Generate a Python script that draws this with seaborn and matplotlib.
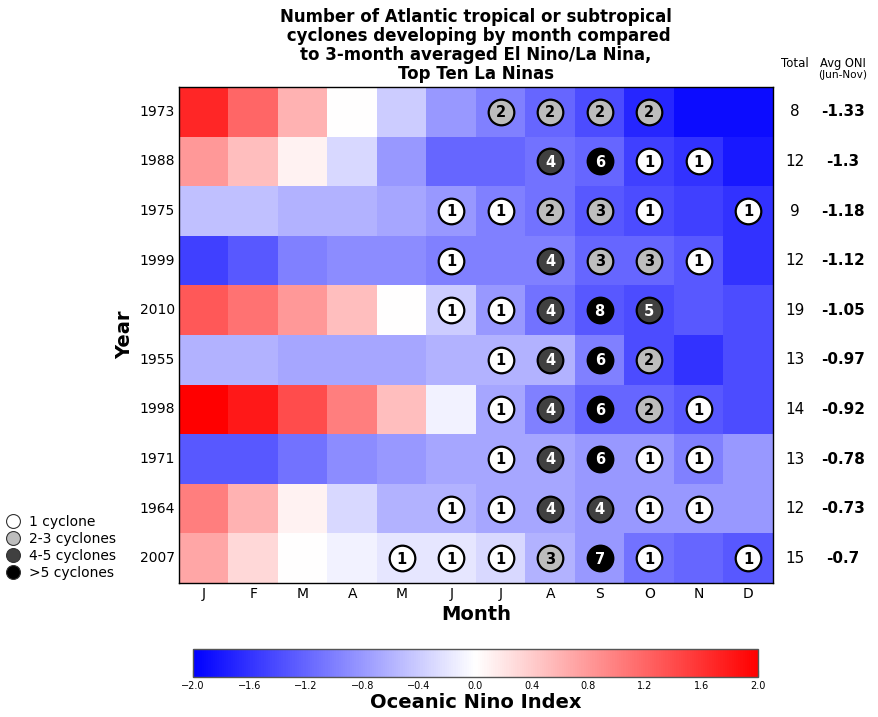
import matplotlib
matplotlib.use("Agg")
import matplotlib.pyplot as plt
from matplotlib.lines import Line2D
import matplotlib.transforms as mtransforms
import numpy as np
import pandas as pd
import seaborn as sns

# Top ten La Nina years (ordered by Jun-Nov average ONI)
years = ["1973", "1988", "1975", "1999", "2010", "1955", "1998", "1971", "1964", "2007"]
months = ["J", "F", "M", "A", "M", "J", "J", "A", "S", "O", "N", "D"]

# 3-month averaged Oceanic Nino Index, one row per year (Jan..Dec)
oni_1973 = [1.7, 1.2, 0.6, 0.0, -0.4, -0.8, -1.0, -1.2, -1.4, -1.7, -1.9, -1.9]
oni_1988 = [0.8, 0.5, 0.1, -0.3, -0.8, -1.2, -1.2, -1.1, -1.2, -1.5, -1.6, -1.8]
oni_1975 = [-0.5, -0.5, -0.6, -0.6, -0.7, -0.8, -1.0, -1.1, -1.3, -1.4, -1.5, -1.6]
oni_1999 = [-1.5, -1.3, -1.0, -0.9, -0.9, -1.0, -1.0, -1.0, -1.2, -1.2, -1.3, -1.6]
oni_2010 = [1.3, 1.1, 0.8, 0.5, 0.0, -0.4, -0.8, -1.1, -1.3, -1.4, -1.3, -1.4]
oni_1955 = [-0.6, -0.6, -0.7, -0.7, -0.7, -0.6, -0.6, -0.6, -1.0, -1.4, -1.6, -1.4]
oni_1998 = [2.0, 1.8, 1.4, 1.0, 0.5, -0.1, -0.7, -1.0, -1.2, -1.2, -1.3, -1.4]
oni_1971 = [-1.3, -1.3, -1.1, -0.9, -0.8, -0.7, -0.7, -0.7, -0.8, -0.8, -1.0, -0.8]
oni_1964 = [1.0, 0.6, 0.1, -0.3, -0.6, -0.6, -0.7, -0.7, -0.8, -0.8, -0.8, -0.8]
oni_2007 = [0.7, 0.3, 0.0, -0.1, -0.2, -0.2, -0.3, -0.6, -0.8, -1.1, -1.2, -1.3]

# Number of tropical/subtropical cyclones forming in each month
cyc_1973 = [0, 0, 0, 0, 0, 0, 2, 2, 2, 2, 0, 0]
cyc_1988 = [0, 0, 0, 0, 0, 0, 0, 4, 6, 1, 1, 0]
cyc_1975 = [0, 0, 0, 0, 0, 1, 1, 2, 3, 1, 0, 1]
cyc_1999 = [0, 0, 0, 0, 0, 1, 0, 4, 3, 3, 1, 0]
cyc_2010 = [0, 0, 0, 0, 0, 1, 1, 4, 8, 5, 0, 0]
cyc_1955 = [0, 0, 0, 0, 0, 0, 1, 4, 6, 2, 0, 0]
cyc_1998 = [0, 0, 0, 0, 0, 0, 1, 4, 6, 2, 1, 0]
cyc_1971 = [0, 0, 0, 0, 0, 0, 1, 4, 6, 1, 1, 0]
cyc_1964 = [0, 0, 0, 0, 0, 1, 1, 4, 4, 1, 1, 0]
cyc_2007 = [0, 0, 0, 0, 1, 1, 1, 3, 7, 1, 0, 1]

avg_oni_labels = ["-1.33", "-1.3", "-1.18", "-1.12", "-1.05", "-0.97", "-0.92", "-0.78", "-0.73", "-0.7"]

oni = pd.DataFrame(
    [oni_1973, oni_1988, oni_1975, oni_1999, oni_2010,
     oni_1955, oni_1998, oni_1971, oni_1964, oni_2007],
    index=years,
)
cyclones = np.array(
    [cyc_1973, cyc_1988, cyc_1975, cyc_1999, cyc_2010,
     cyc_1955, cyc_1998, cyc_1971, cyc_1964, cyc_2007]
)
totals = cyclones.sum(axis=1)

sns.set_style("white")
plt.rcParams["font.family"] = ["DejaVu Sans"]
plt.rcParams.update({
    "text.color": "black",
    "axes.labelcolor": "black",
    "xtick.color": "black",
    "ytick.color": "black",
})

W, H = 879, 717
fig = plt.figure(figsize=(W / 100, H / 100), dpi=100)
ax = fig.add_axes([179 / W, 1 - 583 / H, 594 / W, 496 / H])
cax = fig.add_axes([193 / W, 1 - 677 / H, 565 / W, 28 / H])

cbar_ticks = np.round(np.arange(-2.0, 2.01, 0.4), 1)
sns.heatmap(
    oni, ax=ax, cmap="bwr", vmin=-2, vmax=2,
    cbar_ax=cax, cbar_kws={"orientation": "horizontal", "ticks": cbar_ticks},
)

for s in ax.spines.values():
    s.set_visible(True)
    s.set_color("black")
    s.set_linewidth(1.0)

ax.set_xticks(np.arange(12) + 0.5)
ax.set_xticklabels(months, fontsize=10, rotation=0)
ax.set_yticks(np.arange(10) + 0.5)
ax.set_yticklabels(years, fontsize=10, rotation=0)
ax.tick_params(axis="x", length=0, pad=3)
ax.tick_params(axis="y", length=0, pad=3)
ax.set_xlabel("Month", fontsize=14, fontweight="bold", labelpad=3)
ax.set_ylabel("Year", fontsize=14, fontweight="bold", labelpad=4)
ax.set_title(
    "Number of Atlantic tropical or subtropical\n cyclones developing by month compared\n"
    "to 3-month averaged El Nino/La Nina,\nTop Ten La Ninas",
    fontsize=12, fontweight="bold", linespacing=1.07, pad=6,
)


def circle_style(n):
    if n == 1:
        return "white", "black"
    if n <= 3:
        return "#bdbdbd", "black"
    if n <= 5:
        return "#404040", "white"
    return "black", "white"


rows, cols = np.nonzero(cyclones)
for r, c in zip(rows, cols):
    n = cyclones[r, c]
    fc, tc = circle_style(n)
    ax.scatter(c + 0.5, r + 0.5, s=340, facecolor=fc, edgecolor="black",
               linewidth=1.6, zorder=3)
    ax.text(c + 0.5, r + 0.52, str(n), ha="center", va="center", fontsize=10.5,
            fontweight="bold", color=tc, zorder=4)

# Totals and Jun-Nov average ONI to the right of the grid
trans = mtransforms.blended_transform_factory(ax.transAxes, ax.transData)
for r in range(len(years)):
    ax.text(1.037, r + 0.5, str(totals[r]), transform=trans, ha="center",
            va="center", fontsize=11)
    ax.text(1.118, r + 0.5, avg_oni_labels[r], transform=trans, ha="center",
            va="center", fontsize=11, fontweight="bold")
ax.text(1.037, 1.048, "Total", transform=ax.transAxes, ha="center", va="center", fontsize=8.5)
ax.text(1.118, 1.048, "Avg ONI", transform=ax.transAxes, ha="center", va="center", fontsize=8.3)
ax.text(1.118, 1.024, "(Jun-Nov)", transform=ax.transAxes, ha="center", va="center", fontsize=7.6)

# Colorbar styling
cbar = ax.collections[0].colorbar
cbar.outline.set_edgecolor("#555555")
cbar.outline.set_linewidth(1.0)
cax.tick_params(direction="in", length=5, width=0.8, labelsize=7, colors="black", pad=3)
cax.set_xticklabels([f"{t:.1f}".replace("-", "\u2212") if t != 0 else "0.0" for t in cbar_ticks])
cax.set_xlabel("Oceanic Nino Index", fontsize=14, fontweight="bold", labelpad=1)

# Legend for cyclone counts
legend_items = [
    ("1 cyclone", "white"),
    ("2-3 cyclones", "#bdbdbd"),
    ("4-5 cyclones", "#404040"),
    (">5 cyclones", "black"),
]
handles = [
    Line2D([], [], marker="o", linestyle="none", markersize=10, markerfacecolor=fc,
           markeredgecolor="#333333", markeredgewidth=0.8, label=lab)
    for lab, fc in legend_items
]
fig.legend(handles=handles, loc="upper left", bbox_to_anchor=(7 / W, 1 - 515 / H),
           frameon=False, fontsize=10, handlelength=0.8, handletextpad=0.75,
           labelspacing=0.22, borderpad=0, borderaxespad=0)

fig.savefig("out.png", dpi=100)
